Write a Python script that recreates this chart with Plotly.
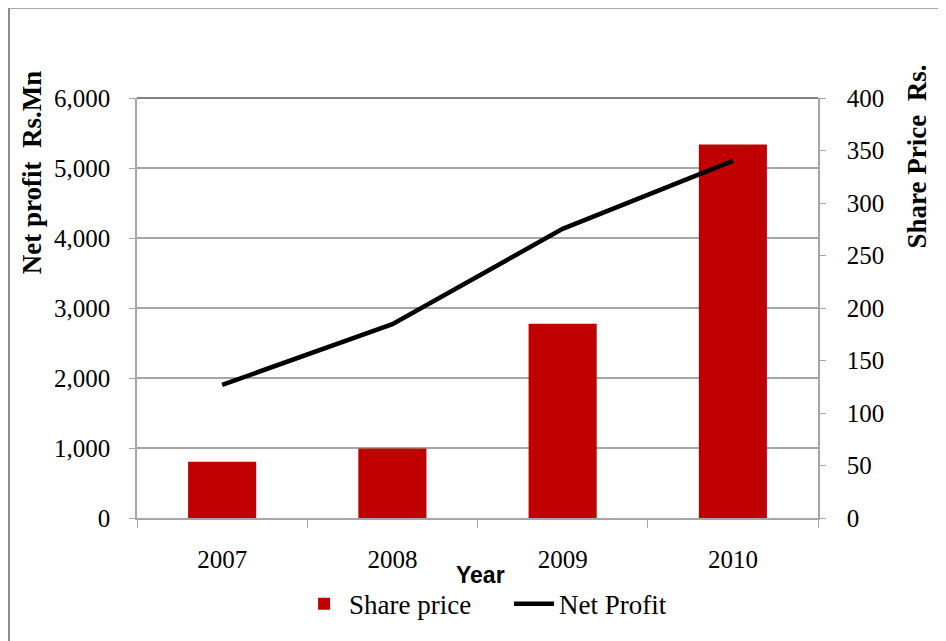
import plotly.graph_objects as go

years = ["2007", "2008", "2009", "2010"]
share_price = [53.6, 66.2, 184.9, 355.8]
net_profit = [1902, 2768, 4131, 5101]

left_ticks = [0, 1000, 2000, 3000, 4000, 5000, 6000]
right_ticks = [0, 50, 100, 150, 200, 250, 300, 350, 400]

SERIF = "Liberation Serif"
GRAY = "#a6a6a6"

fig = go.Figure()
fig.add_trace(go.Bar(x=years, y=share_price, name="Share price", yaxis="y",
                     marker=dict(color="#C00000", line=dict(width=0))))
fig.add_trace(go.Scatter(x=years, y=net_profit, name="Net Profit", yaxis="y2",
                         mode="lines", line=dict(color="black", width=4.5)))

fig.update_layout(
    width=938, height=633,
    margin=dict(l=129, r=128, t=90, b=120),
    paper_bgcolor="white", plot_bgcolor="white",
    bargap=0.6,
    showlegend=True,
    legend=dict(orientation="h", x=0.238, xanchor="left", y=-0.205, yanchor="middle",
                font=dict(family=SERIF, size=27, color="black"), itemwidth=40,
                entrywidth=155, traceorder="normal"),
    xaxis=dict(type="category", showline=True, linecolor=GRAY, linewidth=1.5,
               ticks="outside", tickson="boundaries", ticklen=8, tickcolor=GRAY,
               showgrid=False, ticklabelstandoff=18,
               tickfont=dict(family=SERIF, size=25, color="black")),
    yaxis=dict(side="right", range=[0, 400], tickvals=right_ticks,
               showgrid=False, showline=True, linecolor=GRAY, linewidth=1.5,
               ticks="outside", ticklen=6, tickcolor=GRAY, ticklabelstandoff=16,
               tickfont=dict(family=SERIF, size=25, color="black"), zeroline=False),
    yaxis2=dict(side="left", overlaying="y", range=[0, 6000], tickvals=left_ticks,
                tickformat=",d", showgrid=True, gridcolor=GRAY, gridwidth=1.5,
                showline=True, linecolor=GRAY, linewidth=1.5,
                ticks="outside", ticklen=6, tickcolor=GRAY, ticklabelstandoff=14,
                tickfont=dict(family=SERIF, size=25, color="black"), zeroline=False),
    annotations=[
        dict(text="Net profit  Rs.Mn", xref="paper", yref="paper", x=-0.153, y=0.823,
             textangle=-90, showarrow=False, xanchor="center", yanchor="middle",
             font=dict(family=SERIF, size=27, color="black", weight="bold")),
        dict(text="Share Price  Rs.", xref="paper", yref="paper", x=1.145, y=0.86,
             textangle=-90, showarrow=False, xanchor="center", yanchor="middle",
             font=dict(family=SERIF, size=27, color="black", weight="bold")),
        dict(text="Year", xref="paper", yref="paper", x=0.505, y=-0.135,
             showarrow=False, xanchor="center", yanchor="middle",
             font=dict(family="Liberation Sans", size=23, color="black", weight="bold")),
    ],
    shapes=[
        dict(type="line", xref="paper", yref="paper", x0=0, x1=1, y0=1, y1=1,
             line=dict(color="#595959", width=1.5)),
        dict(type="line", xref="paper", yref="paper", x0=-0.188, x1=-0.188, y0=1.215, y1=-0.3,
             line=dict(color="#8c8c8c", width=2)),
        dict(type="line", xref="paper", yref="paper", x0=-0.188, x1=1.2, y0=1.215, y1=1.215,
             line=dict(color="#8c8c8c", width=2)),
    ],
)

fig.write_html("out.html")
